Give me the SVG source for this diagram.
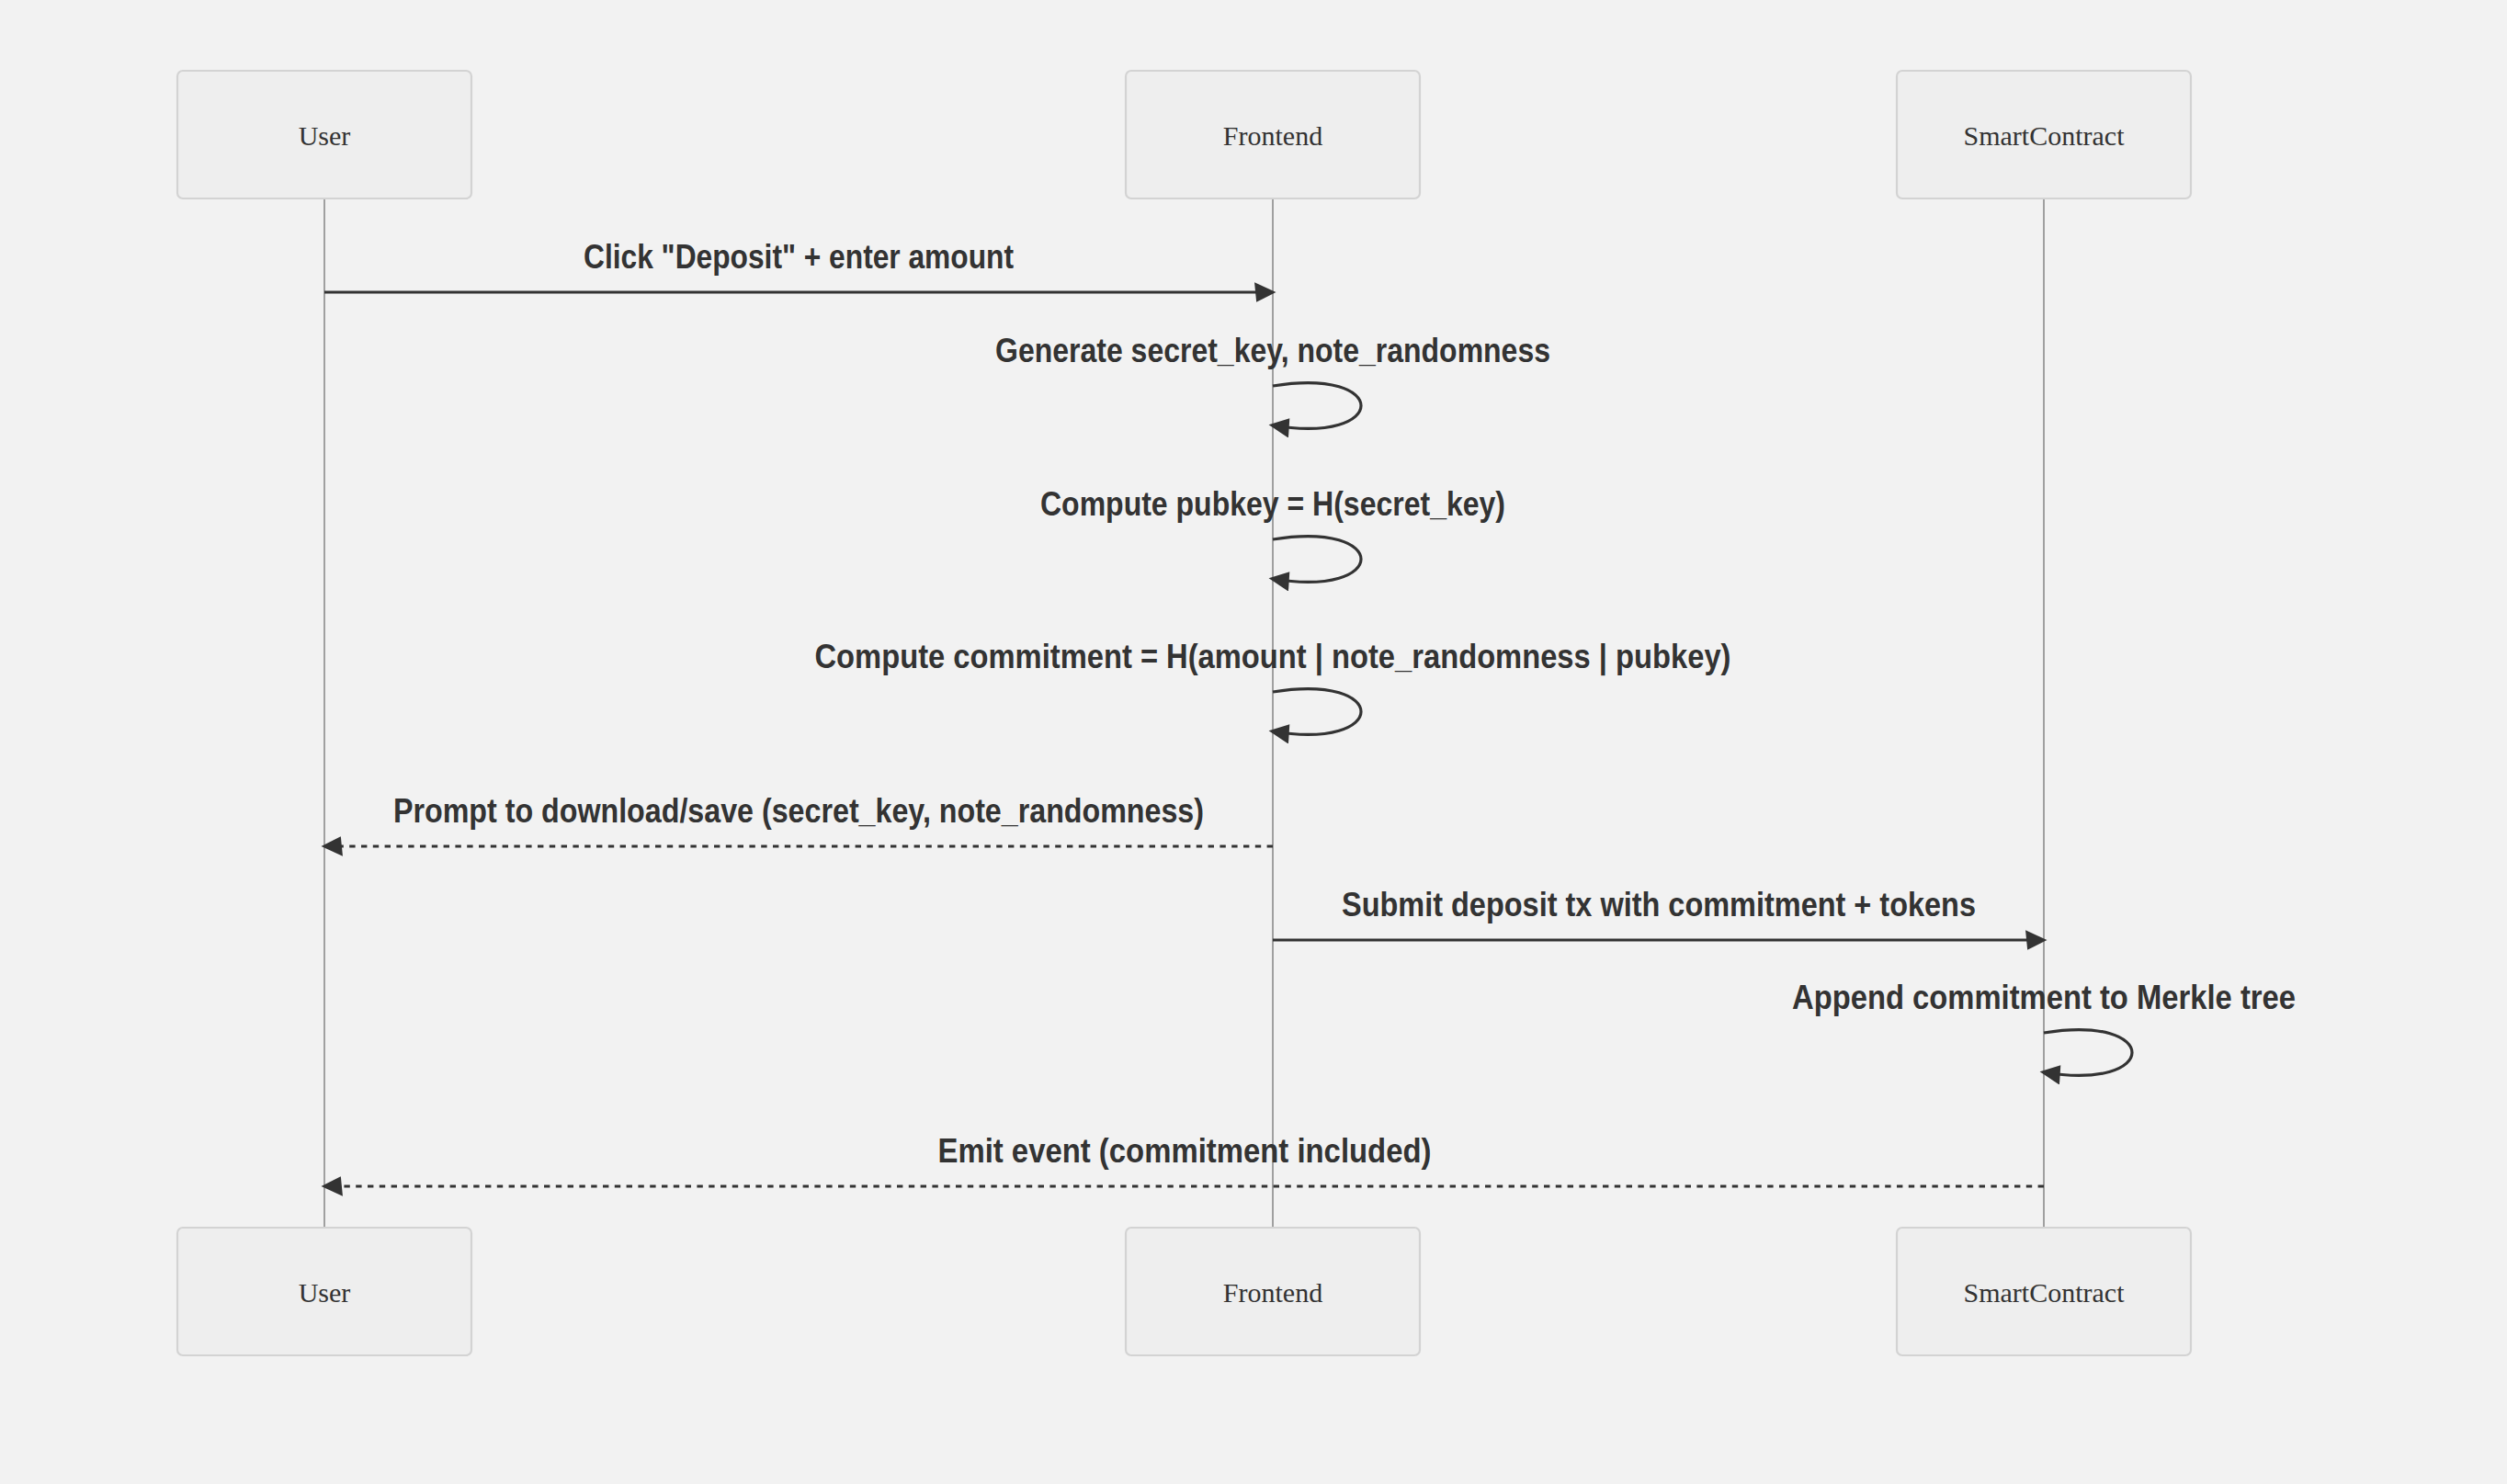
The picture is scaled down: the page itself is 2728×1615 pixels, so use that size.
<svg xmlns="http://www.w3.org/2000/svg" width="2728" height="1615" viewBox="0 0 2728 1615">
<defs>
<style>
.bg{fill:#f2f2f2}
.actor rect{fill:#eeeeee;stroke:#d3d3d3;stroke-width:2.2}
.actor text{font-family:"Liberation Serif","Times New Roman",serif;font-size:30px;fill:#333;text-anchor:middle;dominant-baseline:central}
.life{stroke:#a0a0a0;stroke-width:2}
.msg{fill:none;stroke:#333;stroke-width:3.2}
.dash{stroke-dasharray:6.4 6.4}
.lbl{font-family:"Liberation Sans",Arial,sans-serif;font-weight:bold;font-size:37px;fill:#333;text-anchor:middle}
</style>
<marker id="ah" viewBox="-1 0 11 10" refX="7.9" refY="5" markerWidth="23.5" markerHeight="21.3" markerUnits="userSpaceOnUse" orient="auto-start-reverse">
<path d="M -1 0 L 10 5 L 0 10 z" fill="#333"/>
</marker>
</defs>
<rect class="bg" x="0" y="0" width="2728" height="1615"/>
<g id="lifelines">
<line class="life" x1="353" y1="216" x2="353" y2="1335"/>
<line class="life" x1="1385" y1="216" x2="1385" y2="1335"/>
<line class="life" x1="2224" y1="216" x2="2224" y2="1335"/>
</g>
<g id="actor-user-top" class="actor"><rect x="193" y="77" width="320" height="139" rx="6"/><text x="353" y="147">User</text></g>
<g id="actor-frontend-top" class="actor"><rect x="1225" y="77" width="320" height="139" rx="6"/><text x="1385" y="147">Frontend</text></g>
<g id="actor-contract-top" class="actor"><rect x="2064" y="77" width="320" height="139" rx="6"/><text x="2224" y="147">SmartContract</text></g>
<g id="actor-user-bottom" class="actor"><rect x="193" y="1336" width="320" height="139" rx="6"/><text x="353" y="1406">User</text></g>
<g id="actor-frontend-bottom" class="actor"><rect x="1225" y="1336" width="320" height="139" rx="6"/><text x="1385" y="1406">Frontend</text></g>
<g id="actor-contract-bottom" class="actor"><rect x="2064" y="1336" width="320" height="139" rx="6"/><text x="2224" y="1406">SmartContract</text></g>
<g id="connectors">
<line class="msg" x1="353" y1="318" x2="1384" y2="318" marker-end="url(#ah)"/>
<path class="msg" d="M1385,420 C1513,399 1513,484 1385,463" marker-end="url(#ah)"/>
<path class="msg" d="M1385,587 C1513,566 1513,651 1385,630" marker-end="url(#ah)"/>
<path class="msg" d="M1385,753 C1513,732 1513,817 1385,796" marker-end="url(#ah)"/>
<line class="msg dash" x1="1385" y1="921" x2="354" y2="921" marker-end="url(#ah)"/>
<line class="msg" x1="1385" y1="1023" x2="2223" y2="1023" marker-end="url(#ah)"/>
<path class="msg" d="M2224,1124 C2352,1103 2352,1188 2224,1167" marker-end="url(#ah)"/>
<line class="msg dash" x1="2224" y1="1291" x2="354" y2="1291" marker-end="url(#ah)"/>
</g>
<g id="labels">
<text class="lbl" x="869" y="292" textLength="468" lengthAdjust="spacingAndGlyphs">Click "Deposit" + enter amount</text>
<text class="lbl" x="1385" y="394" textLength="604" lengthAdjust="spacingAndGlyphs">Generate secret_key, note_randomness</text>
<text class="lbl" x="1385" y="561" textLength="506" lengthAdjust="spacingAndGlyphs">Compute pubkey = H(secret_key)</text>
<text class="lbl" x="1385" y="727" textLength="997" lengthAdjust="spacingAndGlyphs">Compute commitment = H(amount | note_randomness | pubkey)</text>
<text class="lbl" x="869" y="895" textLength="882" lengthAdjust="spacingAndGlyphs">Prompt to download/save (secret_key, note_randomness)</text>
<text class="lbl" x="1805" y="997" textLength="690" lengthAdjust="spacingAndGlyphs">Submit deposit tx with commitment + tokens</text>
<text class="lbl" x="2224" y="1098" textLength="548" lengthAdjust="spacingAndGlyphs">Append commitment to Merkle tree</text>
<text class="lbl" x="1289" y="1265" textLength="537" lengthAdjust="spacingAndGlyphs">Emit event (commitment included)</text>
</g>
</svg>
